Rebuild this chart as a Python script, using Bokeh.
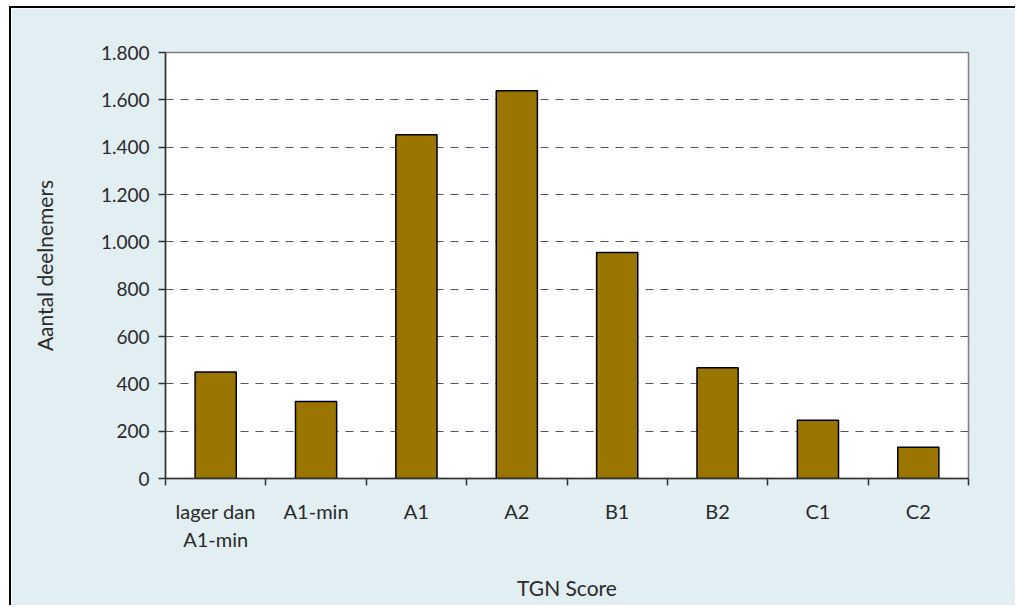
import numpy as np
from bokeh.plotting import figure
from bokeh.models import ColumnDataSource, FixedTicker, Range1d
from bokeh.embed import file_html
from bokeh.resources import INLINE

categories = ["lager dan\nA1-min", "A1-min", "A1", "A2", "B1", "B2", "C1", "C2"]
values = [450, 325, 1452, 1638, 955, 468, 246, 132]
y_ticks = [0, 200, 400, 600, 800, 1000, 1200, 1400, 1600, 1800]
y_tick_labels = ["0", "200", "400", "600", "800", "1.000", "1.200", "1.400", "1.600", "1.800"]

FONT = "Lato"
BG = "#e1eef2"
TXT = "#2a2a2a"

n = len(categories)
centers = [i + 0.5 for i in range(n)]
src = ColumnDataSource(dict(x=centers, top=values))

p = figure(width=1006, height=599, output_backend="svg", toolbar_location=None,
           x_range=Range1d(0, n), y_range=Range1d(0, 1800))
p.min_border_left = 154
p.min_border_top = 44
p.min_border_right = 49
p.min_border_bottom = 129
p.background_fill_color = "white"
p.border_fill_color = BG
p.outline_line_color = "#808080"
p.outline_line_width = 1.5
p.styles = {"border-left": "2px solid #000", "border-top": "2px solid #000",
            "margin-left": "9px", "margin-top": "6px"}

p.vbar(x="x", top="top", width=0.41, source=src, fill_color="#9a7600",
       line_color="black", line_width=1.5)

# x axis: labels at category centres, ticks between categories
xa = p.xaxis[0]
xa.ticker = FixedTicker(ticks=centers, minor_ticks=list(range(n + 1)))
xa.major_label_overrides = {c: lab for c, lab in zip(centers, categories)}
xa.major_tick_out = 0
xa.major_tick_in = 0
xa.minor_tick_out = 7
xa.minor_tick_in = 0
xa.minor_tick_line_color = "#333333"
xa.minor_tick_line_width = 1.5
xa.axis_line_color = "#333333"
xa.axis_line_width = 1.5
xa.major_label_standoff = 13
xa.major_label_text_font = FONT
xa.major_label_text_font_size = "20px"
xa.major_label_text_color = TXT
xa.axis_label = "TGN Score"
xa.axis_label_text_font = FONT
xa.axis_label_text_font_size = "21px"
xa.axis_label_text_font_style = "normal"
xa.axis_label_text_color = TXT
xa.axis_label_standoff = 21

ya = p.yaxis[0]
ya.ticker = FixedTicker(ticks=y_ticks, minor_ticks=[])
ya.major_label_overrides = {t: lab for t, lab in zip(y_ticks, y_tick_labels)}
ya.major_tick_out = 7
ya.major_tick_in = 0
ya.major_tick_line_color = "#333333"
ya.major_tick_line_width = 1.5
ya.axis_line_color = "#333333"
ya.axis_line_width = 1.5
ya.major_label_standoff = 9
ya.major_label_text_font = FONT
ya.major_label_text_font_size = "19px"
ya.major_label_text_color = TXT
ya.axis_label = "Aantal deelnemers"
ya.axis_label_text_font = FONT
ya.axis_label_text_font_size = "21px"
ya.axis_label_text_font_style = "normal"
ya.axis_label_text_color = TXT
ya.axis_label_standoff = 41

p.xgrid.grid_line_color = None
p.ygrid.ticker = FixedTicker(ticks=y_ticks)
p.ygrid.grid_line_color = "#555555"
p.ygrid.grid_line_dash = "8 7"
p.ygrid.grid_line_width = 1.2

open("out.html", "w").write(file_html(p, INLINE))
